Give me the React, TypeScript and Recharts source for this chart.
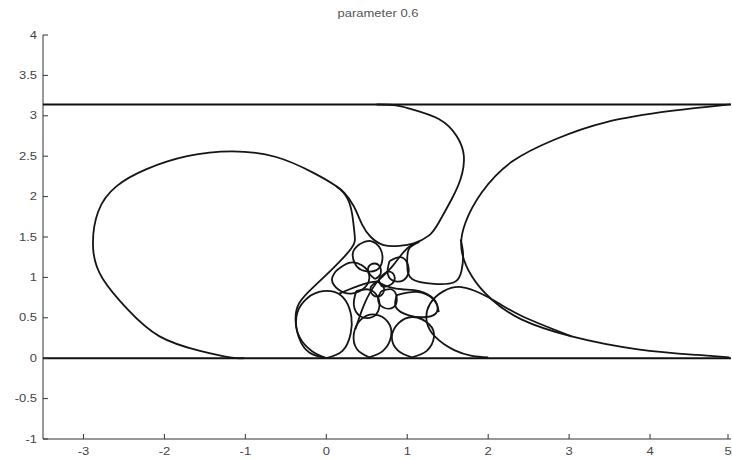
import { ScatterChart, Scatter, XAxis, YAxis } from "recharts";

type Pt = [number, number];

// axis ticks
const xTicks = [-3, -2, -1, 0, 1, 2, 3, 4, 5];
const yTicks = [-1, -0.5, 0, 0.5, 1, 1.5, 2, 2.5, 3, 3.5, 4];

// the two strip boundaries (y = 0 and y = pi)
const bottomEdge: Pt[] = [[-3.5, 0], [5, 0]];
const topEdge: Pt[] = [[-3.5, 3.14], [5, 3.14]];

// big loop on the left, both ends touching y = 0
const bigLoop: Pt[] = [
	[-1.01, 0], [-1.19, 0.01], [-1.56, 0.09], [-2.06, 0.27], [-2.46, 0.61], [-2.76, 0.98],
	[-2.88, 1.35], [-2.82, 1.81], [-2.59, 2.13], [-2.22, 2.34], [-1.72, 2.5], [-1.16, 2.56],
	[-0.62, 2.49], [-0.17, 2.3], [0.12, 2.13], [0.26, 1.98], [0.32, 1.78], [0.35, 1.53],
	[0.31, 1.36], [0.07, 1.1], [-0.15, 0.89], [-0.33, 0.69], [-0.38, 0.48], [-0.33, 0.26],
	[-0.18, 0.09], [0, 0],
];

// drop hanging from the top line
const teardrop: Pt[] = [
	[0.62, 3.14], [0.86, 3.13], [1.06, 3.08], [1.39, 2.96], [1.61, 2.75], [1.7, 2.5],
	[1.66, 2.22], [1.55, 1.97], [1.39, 1.68], [1.27, 1.52], [1.08, 1.42], [0.9, 1.39],
	[0.71, 1.4], [0.55, 1.5], [0.44, 1.66], [0.34, 1.88], [0.22, 2.05], [0.12, 2.13],
];

// curve on the right going from the top line to the bottom line
const rightCurve: Pt[] = [
	[4.98, 3.14], [4.88, 3.13], [4.26, 3.06], [3.45, 2.92], [2.83, 2.71], [2.29, 2.43],
	[1.92, 2.05], [1.72, 1.68], [1.67, 1.35], [1.8, 1.01], [2.04, 0.73], [2.41, 0.48],
	[3.03, 0.27], [3.85, 0.11], [4.59, 0.04], [4.98, 0.01],
];

// loops of the spiral cluster
const c1: Pt[] = [
	[0, 0], [0.2, 0.09], [0.3, 0.3], [0.31, 0.51], [0.24, 0.71], [0.1, 0.82], [-0.09, 0.82],
	[-0.27, 0.71], [-0.37, 0.51], [-0.34, 0.26], [-0.21, 0.07], [0, 0],
];
const c2: Pt[] = [
	[0.53, 0.01], [0.7, 0.09], [0.8, 0.27], [0.76, 0.45], [0.6, 0.54], [0.43, 0.48],
	[0.34, 0.3], [0.38, 0.11], [0.53, 0.01],
];
const c3: Pt[] = [
	[1.06, 0.01], [1.24, 0.09], [1.33, 0.26], [1.27, 0.42], [1.07, 0.51], [0.89, 0.43],
	[0.81, 0.26], [0.89, 0.09], [1.06, 0.01],
];
const c4: Pt[] = [
	[2.0, 0.01], [1.8, 0.03], [1.58, 0.1], [1.35, 0.26], [1.24, 0.46], [1.28, 0.67],
	[1.45, 0.83], [1.67, 0.88], [1.91, 0.8], [2.13, 0.68], [2.44, 0.51], [3.03, 0.27],
];
const c5: Pt[] = [
	[1.15, 1.44], [1.02, 1.35], [1.0, 1.16], [1.06, 0.98], [1.33, 0.92], [1.58, 0.94],
	[1.67, 1.08], [1.69, 1.29], [1.66, 1.47],
];
const loopA: Pt[] = [
	[0.12, 1.08], [0.28, 1.18], [0.44, 1.15], [0.53, 1.03], [0.48, 0.88], [0.31, 0.8],
	[0.15, 0.85], [0.07, 0.97], [0.12, 1.08],
];
const loopB: Pt[] = [
	[0.41, 1.41], [0.55, 1.45], [0.67, 1.35], [0.69, 1.2], [0.62, 1.09], [0.47, 1.08],
	[0.36, 1.16], [0.33, 1.31], [0.41, 1.41],
];
const loopD: Pt[] = [
	[0.87, 0.78], [1.12, 0.82], [1.32, 0.73], [1.37, 0.58], [1.24, 0.51], [1.02, 0.53],
	[0.86, 0.63], [0.87, 0.78],
];
const loopE: Pt[] = [
	[0.37, 0.83], [0.53, 0.85], [0.64, 0.75], [0.65, 0.61], [0.57, 0.51], [0.42, 0.52],
	[0.34, 0.66], [0.37, 0.83],
];
const loopF: Pt[] = [
	[0.78, 1.2], [0.92, 1.25], [1.01, 1.15], [0.99, 1.0], [0.86, 0.95], [0.76, 1.04], [0.78, 1.2],
];
const loopG: Pt[] = [
	[0.68, 0.83], [0.81, 0.85], [0.87, 0.75], [0.83, 0.63], [0.7, 0.63], [0.64, 0.73], [0.68, 0.83],
];
const tiny1: Pt[] = [[0.65, 0.98], [0.76, 1.07], [0.84, 1.02], [0.81, 0.92], [0.69, 0.89], [0.65, 0.98]];
const tiny2: Pt[] = [[0.63, 0.95], [0.55, 0.88], [0.58, 0.78], [0.68, 0.78], [0.71, 0.88], [0.63, 0.95]];
const tiny3: Pt[] = [[0.6, 0.98], [0.52, 1.07], [0.55, 1.16], [0.65, 1.15], [0.67, 1.04], [0.6, 0.98]];

// arms running out of the spiral centre
const arm1: Pt[] = [[0.63, 0.95], [0.78, 0.88], [0.96, 0.85], [1.15, 0.83], [1.33, 0.73], [1.39, 0.57]];
const arm2: Pt[] = [[0.63, 0.95], [0.55, 0.83], [0.47, 0.67], [0.41, 0.51], [0.36, 0.36]];
const arm3: Pt[] = [[0.63, 0.95], [0.81, 1.13], [0.96, 1.32], [1.08, 1.42]];
const arm4: Pt[] = [[0.63, 0.95], [0.47, 0.92], [0.28, 0.85], [0.16, 0.8]];

const curves: Pt[][] = [
	bigLoop, teardrop, rightCurve, c1, c2, c3, c4, c5, loopA, loopB, loopD, loopE,
	loopF, loopG, tiny1, tiny2, tiny3, arm1, arm2, arm3, arm4,
];

const toPoints = (pts: Pt[]) => pts.map(([x, y]) => ({ x, y }));

const noDot = () => <g />;

const FONT = "Liberation Sans, Arial, sans-serif";
const AXIS_X = 43; // pixel x of the y axis line
const AXIS_Y = 439; // pixel y of the x axis line
const STRETCH = 1.3; // the text in the original is stretched sideways

// matlab-style ticks pointing into the plot
function YTick(props: any) {
	const { y, payload } = props;
	return (
		<g>
			<line x1={AXIS_X} x2={AXIS_X + 5} y1={y} y2={y} stroke="#333" />
			<text
				transform={`translate(${AXIS_X - 6},${y}) scale(${STRETCH},1)`}
				dy="0.35em"
				textAnchor="end"
				fontSize={10}
				fill="#444"
				fontFamily={FONT}
			>
				{payload.value}
			</text>
		</g>
	);
}

function XTick(props: any) {
	const { x, payload } = props;
	return (
		<g>
			<line x1={x} x2={x} y1={AXIS_Y} y2={AXIS_Y - 5} stroke="#333" />
			<text
				transform={`translate(${x},${AXIS_Y + 16}) scale(${STRETCH},1)`}
				textAnchor="middle"
				fontSize={10}
				fill="#444"
				fontFamily={FONT}
			>
				{payload.value}
			</text>
		</g>
	);
}

export default function App() {
	return (
		<div style={{ position: "absolute", left: 0, top: 0, width: 732, height: 459, background: "#fff" }}>
			<div
				style={{
					position: "absolute",
					left: 318,
					top: 8,
					width: 120,
					textAlign: "center",
					fontSize: 10,
					color: "#555",
					fontFamily: FONT,
					transform: `scaleX(${STRETCH})`,
				}}
			>
				parameter 0.6
			</div>
			<ScatterChart width={732} height={459} margin={{ top: 35, right: 1, bottom: 0, left: 0 }}>
				<XAxis
					type="number"
					dataKey="x"
					domain={[-3.5, 5]}
					ticks={xTicks}
					allowDataOverflow
					height={20}
					stroke="#333"
					tickLine={false}
					tick={<XTick />}
				/>
				<YAxis
					type="number"
					dataKey="y"
					domain={[-1, 4]}
					ticks={yTicks}
					allowDataOverflow
					width={43}
					stroke="#333"
					tickLine={false}
					tick={<YTick />}
				/>
				<Scatter
					data={toPoints(bottomEdge)}
					line={{ stroke: "#111", strokeWidth: 2 }}
					shape={noDot}
					isAnimationActive={false}
				/>
				<Scatter
					data={toPoints(topEdge)}
					line={{ stroke: "#111", strokeWidth: 2.2 }}
					shape={noDot}
					isAnimationActive={false}
				/>
				{curves.map((c, i) => (
					<Scatter
						key={i}
						data={toPoints(c)}
						line={{ stroke: "#151515", strokeWidth: 1.8 }}
						lineJointType="natural"
						shape={noDot}
						isAnimationActive={false}
					/>
				))}
			</ScatterChart>
		</div>
	);
}
